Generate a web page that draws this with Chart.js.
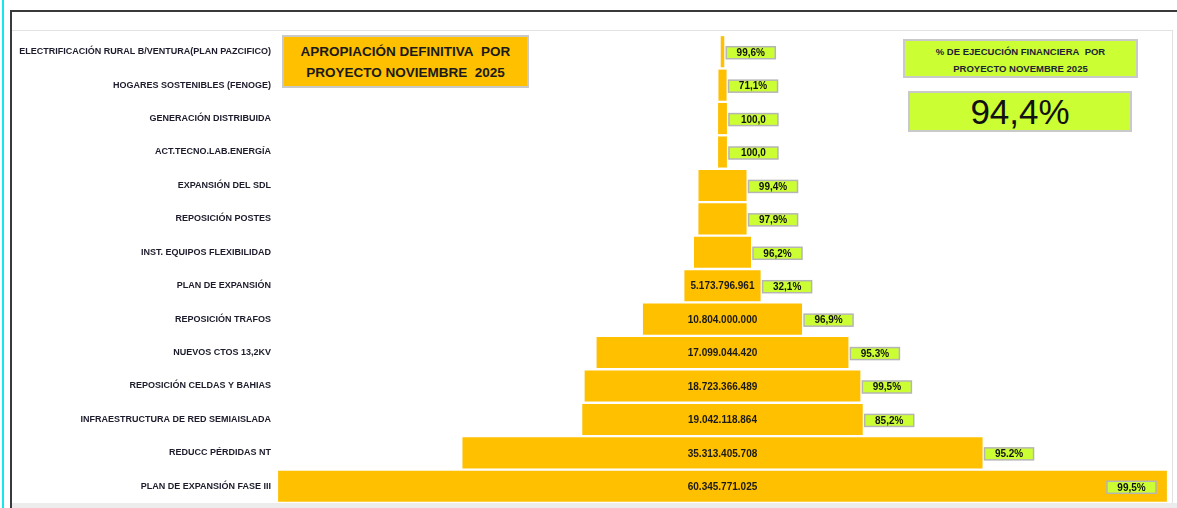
<!DOCTYPE html>
<html>
<head>
<meta charset="utf-8">
<script src="https://cdn.jsdelivr.net/npm/chart.js@4.4.1/dist/chart.umd.min.js"></script>
<style>
  html, body { margin: 0; padding: 0; background: #fff; }
  body { width: 1177px; height: 508px; position: relative; overflow: hidden; font-family: "Liberation Sans Narrow", "Liberation Sans", Arial, sans-serif; }
  .line { position: absolute; }
  #chart { position: absolute; left: 0; top: 0; }
  .box { position: absolute; box-sizing: border-box; text-align: center; color: #1a1a1a; font-weight: bold; }
  #titulo { left: 282px; top: 35px; width: 247px; height: 53px; background: #ffc000; border: 2px solid #c9c9c9; font-size: 13.5px; line-height: 21px; padding-top: 4px; }
  #ejecTitulo { left: 903px; top: 39px; width: 235px; height: 39px; background: #ccff33; border: 2px solid #c9c9c9; font-size: 9.5px; line-height: 17px; padding-top: 2px; color: #1c2433; }
  #ejecTotal { left: 908px; top: 91px; width: 224px; height: 41px; background: #ccff33; border: 2px solid #c9c9c9; font-family: "Liberation Sans", Arial, sans-serif; font-weight: normal; font-size: 35px; line-height: 37px; color: #111; }
</style>
</head>
<body>
<div class="line" style="left:2px;top:0;width:2px;height:508px;background:#19e6ec"></div>
<div class="line" style="left:10px;top:10px;width:1167px;height:2px;background:#3a3a3a"></div>
<div class="line" style="left:10px;top:10px;width:2px;height:498px;background:#3a3a3a"></div>
<div class="line" style="left:12px;top:30px;width:1160px;height:1px;background:#e2e2e2"></div>
<div class="line" style="left:1172px;top:30px;width:1px;height:473px;background:#e2e2e2"></div>
<div class="line" style="left:12px;top:503px;width:1165px;height:5px;background:#ececec"></div>
<canvas id="chart" width="1177" height="508"></canvas>
<div class="box" id="titulo">APROPIACIÓN DEFINITIVA&nbsp; POR<br>PROYECTO NOVIEMBRE&nbsp; 2025</div>
<div class="box" id="ejecTitulo">% DE EJECUCIÓN FINANCIERA&nbsp; POR<br>PROYECTO NOVEMBRE 2025</div>
<div class="box" id="ejecTotal">94,4%</div>
<script>
const categories = [
    "ELECTRIFICACIÓN RURAL B/VENTURA(PLAN PAZCIFICO)",
    "HOGARES SOSTENIBLES (FENOGE)",
    "GENERACIÓN DISTRIBUIDA",
    "ACT.TECNO.LAB.ENERGÍA",
    "EXPANSIÓN DEL SDL",
    "REPOSICIÓN POSTES",
    "INST. EQUIPOS FLEXIBILIDAD",
    "PLAN DE EXPANSIÓN",
    "REPOSICIÓN TRAFOS",
    "NUEVOS CTOS 13,2KV",
    "REPOSICIÓN CELDAS Y BAHIAS",
    "INFRAESTRUCTURA DE RED SEMIAISLADA",
    "REDUCC PÉRDIDAS NT",
    "PLAN DE EXPANSIÓN FASE III"
];

const apropiacion = [
    240000000, 550000000, 600000000, 600000000,
    3260000000, 3270000000, 3870000000,
    5173796961, 10804000000, 17099044420, 18723366489,
    19042118864, 35313405708, 60345771025
];

const ejecucion = [
    "99,6%", "71,1%", "100,0", "100,0", "99,4%", "97,9%", "96,2%",
    "32,1%", "96,9%", "95.3%", "99,5%", "85,2%", "95.2%", "99,5%"
];

const minLabelValue = 5000000000;
const halfRange = 30180000000;

function formatPesos(v) {
    return String(Math.round(v)).replace(/\B(?=(\d{3})+(?!\d))/g, ".");
}

const narrow = "'Liberation Sans Narrow', 'Liberation Sans', Arial, sans-serif";

const barLabels = {
    id: "barLabels",
    afterDatasetsDraw(chart) {
        const ctx = chart.ctx;
        const area = chart.chartArea;
        const bars = chart.getDatasetMeta(0).data;
        ctx.save();
        ctx.textBaseline = "middle";
        ctx.textAlign = "center";
        bars.forEach((bar, i) => {
            const right = Math.max(bar.x, bar.base);
            const left = Math.min(bar.x, bar.base);
            const cy = bar.y + 1;
            if (apropiacion[i] >= minLabelValue) {
                ctx.fillStyle = "#1a1a1a";
                ctx.font = "bold 10px " + narrow;
                ctx.fillText(formatPesos(apropiacion[i]), (left + right) / 2, bar.y + 1);
            }
            const w = 49, h = 12;
            const bx = Math.min(right + 2, area.right - 60);
            ctx.fillStyle = "#ccff33";
            ctx.fillRect(bx, cy - h / 2, w, h);
            ctx.strokeStyle = "#b5b5b5";
            ctx.lineWidth = 1.5;
            ctx.strokeRect(bx, cy - h / 2, w, h);
            ctx.fillStyle = "#111";
            ctx.font = "bold 10px " + narrow;
            ctx.fillText(ejecucion[i], bx + w / 2, cy + 0.5);
        });
        ctx.restore();
    }
};

new Chart(document.getElementById("chart"), {
    type: "bar",
    data: {
        labels: categories,
        datasets: [
            {
                label: "Apropiación definitiva",
                data: apropiacion.map(v => [-v / 2, v / 2]),
                backgroundColor: "#ffc000",
                borderWidth: 0,
                categoryPercentage: 1,
                barPercentage: 0.93
            }
        ]
    },
    options: {
        indexAxis: "y",
        responsive: false,
        animation: false,
        devicePixelRatio: 1,
        layout: { padding: { top: 35, bottom: 5, right: 10, left: 0 } },
        plugins: {
            legend: { display: false },
            tooltip: { enabled: false }
        },
        scales: {
            x: {
                display: false,
                min: -halfRange,
                max: halfRange
            },
            y: {
                afterFit: (scale) => {
                    scale.width = 278;
                    scale.paddingTop = 0;
                    scale.paddingBottom = 0;
                },
                grid: { display: false, drawTicks: false },
                border: { display: false },
                ticks: {
                    padding: 7,
                    color: "#1b1b2b",
                    font: { family: narrow, size: 9, weight: "bold" }
                }
            }
        }
    },
    plugins: [barLabels]
});
</script>
</body>
</html>
